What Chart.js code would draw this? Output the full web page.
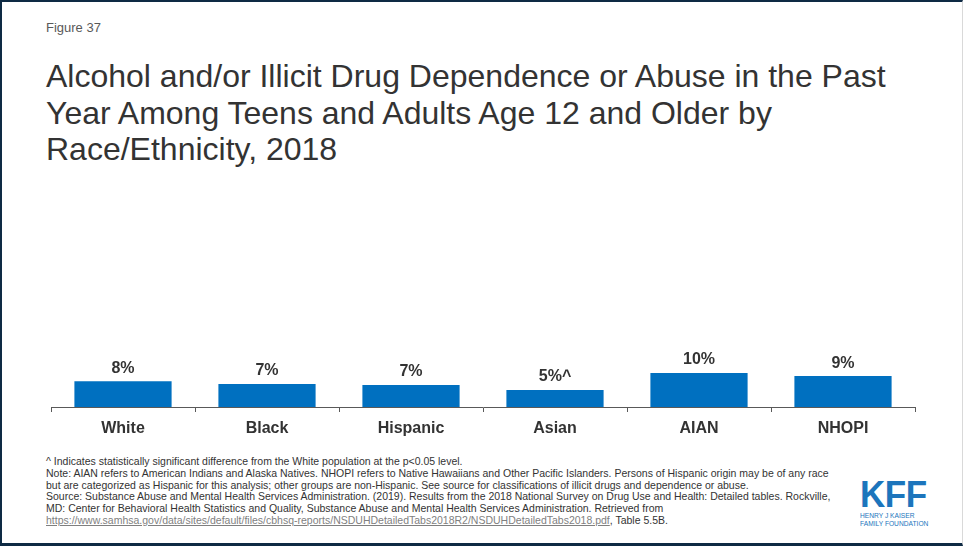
<!DOCTYPE html>
<html>
<head>
<meta charset="utf-8">
<script src="https://cdn.jsdelivr.net/npm/chart.js@4.4.1/dist/chart.umd.min.js"></script>
<style>
  html, body { margin: 0; padding: 0; background: #fff; }
  body { width: 963px; height: 546px; position: relative; overflow: hidden; font-family: "Liberation Sans", Arial, sans-serif; }
  .frame { position: absolute; left: 0; top: 0; width: 963px; height: 546px; box-sizing: border-box;
           border-top: 2px solid #0e2a44; border-left: 2px solid #0e2a44; border-bottom: 3px solid #0e2a44; border-right: 1px solid #d9d9d9; }
  #fig { position: absolute; left: 46px; top: 20px; font-size: 13px; color: #595959; }
  #title { position: absolute; left: 46px; top: 58px; font-size: 32px; line-height: 36.5px; color: #333; }
  #chartBox { position: absolute; left: 0; top: 200px; width: 963px; height: 250px; }
  #notes { position: absolute; left: 46px; top: 456px; font-size: 10.5px; line-height: 11.8px; color: #333; white-space: nowrap; }
  #notes a { color: #7f7f7f; text-decoration: underline; }
  #logo { position: absolute; left: 860px; top: 475px; color: #1c75bc; }
  #logo .kff { font-size: 35px; font-weight: bold; letter-spacing: -0.5px; line-height: 36px; transform: scaleY(1.05); transform-origin: top; }
  #logo .sub { font-size: 7px; line-height: 8px; transform: scaleX(0.95); transform-origin: left; white-space: nowrap; margin-top: 1px; }
</style>
</head>
<body>
<div class="frame"></div>
<div id="fig">Figure 37</div>
<div id="title">Alcohol and/or Illicit Drug Dependence or Abuse in the Past<br>Year Among Teens and Adults Age 12 and Older by<br>Race/Ethnicity, 2018</div>
<div id="chartBox"><canvas id="chart"></canvas></div>
<div id="notes">
^ Indicates statistically significant difference from the White population at the p&lt;0.05 level.<br>
Note: AIAN refers to American Indians and Alaska Natives. NHOPI refers to Native Hawaiians and Other Pacific Islanders. Persons of Hispanic origin may be of any race<br>
but are categorized as Hispanic for this analysis; other groups are non-Hispanic. See source for classifications of illicit drugs and dependence or abuse.<br>
Source: Substance Abuse and Mental Health Services Administration. (2019). Results from the 2018 National Survey on Drug Use and Health: Detailed tables. Rockville,<br>
MD: Center for Behavioral Health Statistics and Quality, Substance Abuse and Mental Health Services Administration. Retrieved from<br>
<a>https://www.samhsa.gov/data/sites/default/files/cbhsq-reports/NSDUHDetailedTabs2018R2/NSDUHDetailedTabs2018.pdf</a>, Table 5.5B.
</div>
<div id="logo">
  <div class="kff">KFF</div>
  <div class="sub">HENRY J KAISER<br>FAMILY FOUNDATION</div>
</div>
<script>
const groups = ["White", "Black", "Hispanic", "Asian", "AIAN", "NHOPI"];
const shares = [7.6, 6.8, 6.5, 5.0, 10.0, 9.1];
const flags = ["", "", "", "^", "", ""];

// percent labels sitting on top of each bar
const barLabels = {
  id: "barLabels",
  afterDatasetsDraw(chart) {
    const ctx = chart.ctx;
    const meta = chart.getDatasetMeta(0);
    ctx.save();
    ctx.font = "bold 16px 'Liberation Sans', Arial, sans-serif";
    ctx.fillStyle = "#333";
    ctx.textAlign = "center";
    ctx.textBaseline = "bottom";
    meta.data.forEach((bar, i) => {
      ctx.fillText(Math.round(shares[i]) + "%" + flags[i], bar.x, bar.y - 5);
    });
    ctx.restore();
  }
};

new Chart(document.getElementById("chart"), {
  type: "bar",
  data: {
    labels: groups,
    datasets: [{
      data: shares,
      backgroundColor: "#0070c0",
      barPercentage: 0.675,
      categoryPercentage: 1
    }]
  },
  options: {
    responsive: true,
    maintainAspectRatio: false,
    animation: false,
    layout: { padding: { left: 51, right: 48, top: 0, bottom: 0 } },
    plugins: { legend: { display: false }, tooltip: { enabled: false } },
    scales: {
      x: {
        grid: { display: true, drawOnChartArea: false, drawTicks: true, tickLength: 5, color: "#595959" },
        border: { display: true, color: "#595959", width: 1 },
        ticks: { color: "#333", padding: 7, font: { family: "'Liberation Sans', Arial, sans-serif", size: 16, weight: "bold" } },
        afterFit(scale) { scale.height = 43; }
      },
      y: { display: false, min: 0, max: 61 }
    }
  },
  plugins: [barLabels]
});
</script>
</body>
</html>
